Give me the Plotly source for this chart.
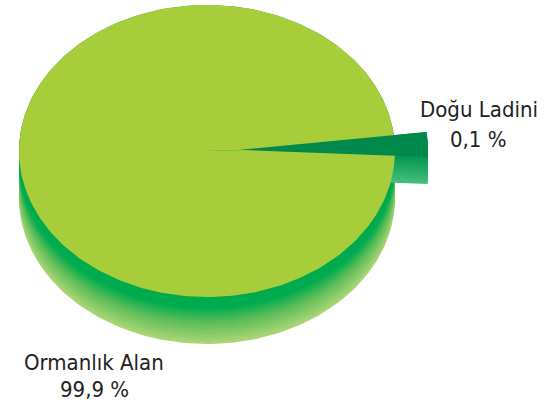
import numpy as np
import plotly.graph_objects as go

# ---- data ----
labels = ["Ormanlık Alan", "Doğu Ladini"]
values = [99.9, 0.1]
value_text = ["99,9 %", "0,1 %"]

# ---- style / layout constants ----
W, H = 556, 409
CX, CY = 207, 151          # centre of top face (px)
RX, RY = 188, 146          # ellipse radii (px)
DEPTH = 47                 # thickness of the pie (px)
SLICE_PULL = 33            # pull-out of small slice (px)
SLICE_DEPTH = 27
MIN_SWEEP = 10.0           # minimum visible sweep in degrees
SLICE_DIR = 2.0            # direction of the small slice (deg)
TOP_COLOR = "#A8CD3A"
SLICE_TOP = "#00894B"
FONT = "Liberation Sans Narrow, DejaVu Sans Condensed, Arial Narrow, sans-serif"
TEXT_COLOR = "#231F20"

total = sum(values)
true_sweeps = [v / total * 360 for v in values]


def wedge(cx, cy, a0, a1, dy=0.0, n=300):
    t = np.radians(np.linspace(a0, a1, n))
    x = cx + RX * np.cos(t)
    y = cy + dy - RY * np.sin(t)
    x = np.concatenate([[cx], x, [cx]])
    y = np.concatenate([[cy + dy], y, [cy + dy]])
    return x, y


def mix(stops, f):
    for (f0, c0), (f1, c1) in zip(stops[:-1], stops[1:]):
        if f0 <= f <= f1:
            k = (f - f0) / (f1 - f0) if f1 > f0 else 0
            c = [round(a + (b - a) * k) for a, b in zip(c0, c1)]
            return "rgb(%d,%d,%d)" % tuple(c)
    c = stops[-1][1]
    return "rgb(%d,%d,%d)" % tuple(c)


side_stops = [(0.0, (0, 170, 79)), (0.25, (0, 172, 80)), (0.55, (90, 188, 88)), (1.0, (172, 214, 118))]
slice_side_stops = [(0.0, (0, 150, 78)), (1.0, (70, 190, 125))]

# angles
s_sweep_true = true_sweeps[1]
s_sweep_vis = max(s_sweep_true, MIN_SWEEP)
main_a0 = SLICE_DIR + s_sweep_true / 2
main_a1 = SLICE_DIR + 360 - s_sweep_true / 2
sl_a0 = SLICE_DIR - s_sweep_vis / 2
sl_a1 = SLICE_DIR + s_sweep_vis / 2
scx = CX + SLICE_PULL * np.cos(np.radians(SLICE_DIR))
scy = CY - SLICE_PULL * np.sin(np.radians(SLICE_DIR))

fig = go.Figure()


def add_poly(x, y, color):
    fig.add_trace(go.Scatter(x=x, y=y, mode="lines", fill="toself", fillcolor=color,
                             line=dict(width=0, color=color), hoverinfo="skip",
                             showlegend=False))


# main side (deepest first)
n_layers = 32
for i in range(n_layers, -1, -1):
    d = DEPTH * i / n_layers
    x, y = wedge(CX, CY, main_a0, main_a1, dy=d)
    add_poly(x, y, mix(side_stops, i / n_layers))

# slice side
n_sl = 16
for i in range(n_sl, -1, -1):
    d = SLICE_DEPTH * i / n_sl
    x, y = wedge(scx, scy, sl_a0, sl_a1, dy=d, n=60)
    add_poly(x, y, mix(slice_side_stops, i / n_sl))

# main top face
x, y = wedge(CX, CY, main_a0, main_a1)
add_poly(x, y, TOP_COLOR)

# slice top face
x, y = wedge(scx, scy, sl_a0, sl_a1, n=60)
add_poly(x, y, SLICE_TOP)

# labels
annots = [
    (94, 362, labels[0]), (94, 389, value_text[0]),
    (479, 109, labels[1]), (478, 139, value_text[1]),
]
for ax, ay, txt in annots:
    fig.add_annotation(x=ax, y=ay, text=txt, showarrow=False, xanchor="center", yanchor="middle",
                       font=dict(family=FONT, size=22, color=TEXT_COLOR))

fig.update_layout(
    width=W, height=H, margin=dict(l=0, r=0, t=0, b=0),
    plot_bgcolor="white", paper_bgcolor="white", showlegend=False,
    xaxis=dict(range=[0, W], visible=False, fixedrange=True),
    yaxis=dict(range=[H, 0], visible=False, fixedrange=True),
)
fig.write_html("out.html", config={"displayModeBar": False},
               post_script="document.body.style.margin='0';document.body.style.overflow='hidden';")
